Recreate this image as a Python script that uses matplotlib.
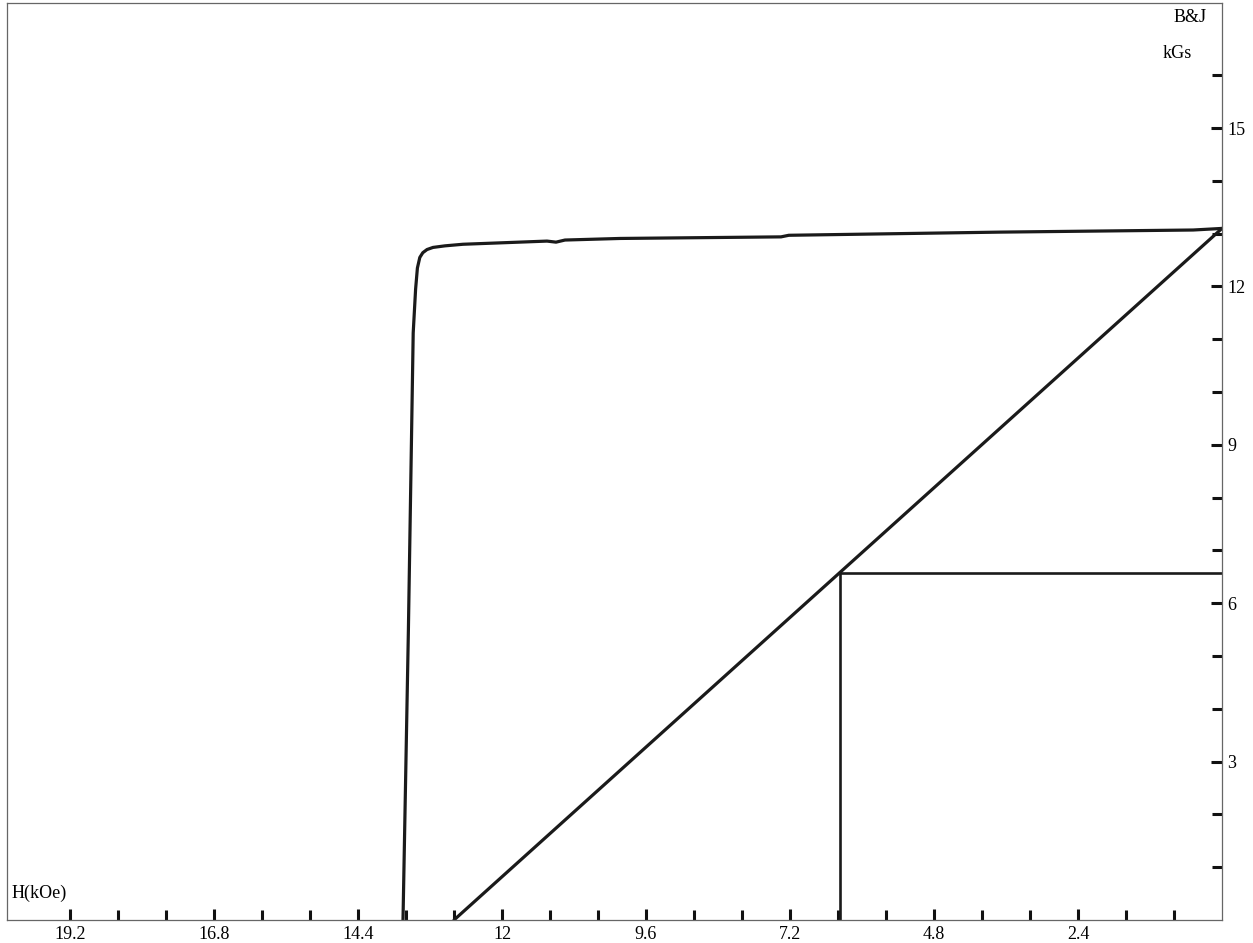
import numpy as np
import matplotlib.pyplot as plt

# J curve (intrinsic): H in kOe, J in kGs
j_h = [13.65, 13.56, 13.48, 13.44, 13.41, 13.37, 13.32, 13.25, 13.15, 12.95, 12.65,
       11.25, 11.10, 10.95, 10.03, 7.35, 7.22, 3.70, 0.48, 0.0]
j_b = [0.0, 5.5, 11.12, 11.95, 12.35, 12.55, 12.64, 12.70, 12.74, 12.77, 12.80,
       12.86, 12.84, 12.88, 12.91, 12.94, 12.97, 13.03, 13.07, 13.10]

# normal B curve (straight line)
b_h = [12.8, 0.0]
b_b = [0.0, 13.1]

# working point
hd = 6.37
bd = 6.58

x_major = [19.2, 16.8, 14.4, 12, 9.6, 7.2, 4.8, 2.4]
x_labels = ['19.2', '16.8', '14.4', '12', '9.6', '7.2', '4.8', '2.4']
x_minor = [18.4, 17.6, 16.0, 15.2, 13.6, 12.8, 11.2, 10.4, 8.8, 8.0, 6.4, 5.6, 4.0, 3.2, 1.6, 0.8]
y_major = [3, 6, 9, 12, 15]
y_minor = [1, 2, 4, 5, 7, 8, 10, 11, 13, 14, 16]


def main():
    plt.rcParams['font.family'] = ['Liberation Serif', 'DejaVu Serif']
    fig = plt.figure(figsize=(12.53, 9.43), dpi=100)
    ax = fig.add_axes([7 / 1253, 23 / 943, 1215 / 1253, 917 / 943])

    ax.plot(j_h, j_b, color='#1a1a1a', lw=2.3, solid_capstyle='round', solid_joinstyle='round')
    ax.plot(b_h, b_b, color='#1a1a1a', lw=2.3, solid_capstyle='round')
    ax.plot([hd, hd], [0, bd], color='#1a1a1a', lw=1.9)
    ax.plot([hd, 0], [bd, bd], color='#1a1a1a', lw=1.9)

    ax.set_xlim(20.25, 0)
    ax.set_ylim(0, 17.37)

    ax.set_xticks(x_major)
    ax.set_xticklabels(x_labels)
    ax.set_xticks(x_minor, minor=True)
    ax.yaxis.tick_right()
    ax.set_yticks(y_major)
    ax.set_yticks(y_minor, minor=True)

    ax.tick_params(axis='both', which='both', direction='in', color='#111111',
                   width=2.2, labelsize=13)
    ax.tick_params(axis='both', which='major', length=8, pad=4)
    ax.tick_params(axis='both', which='minor', length=7)
    ax.tick_params(axis='y', which='both', left=False, right=True)

    for sp in ax.spines.values():
        sp.set_color('#666666')
        sp.set_linewidth(0.9)

    ax.text(12, 943 - 893, 'H(kOe)', transform=None, fontsize=13, va='center', ha='left')
    ax.text(1190, 943 - 18, 'B&J', transform=None, fontsize=13, va='center', ha='center')
    ax.text(1177, 943 - 53, 'kGs', transform=None, fontsize=13, va='center', ha='center')

    fig.savefig('out.png', dpi=100)


if __name__ == '__main__':
    main()
